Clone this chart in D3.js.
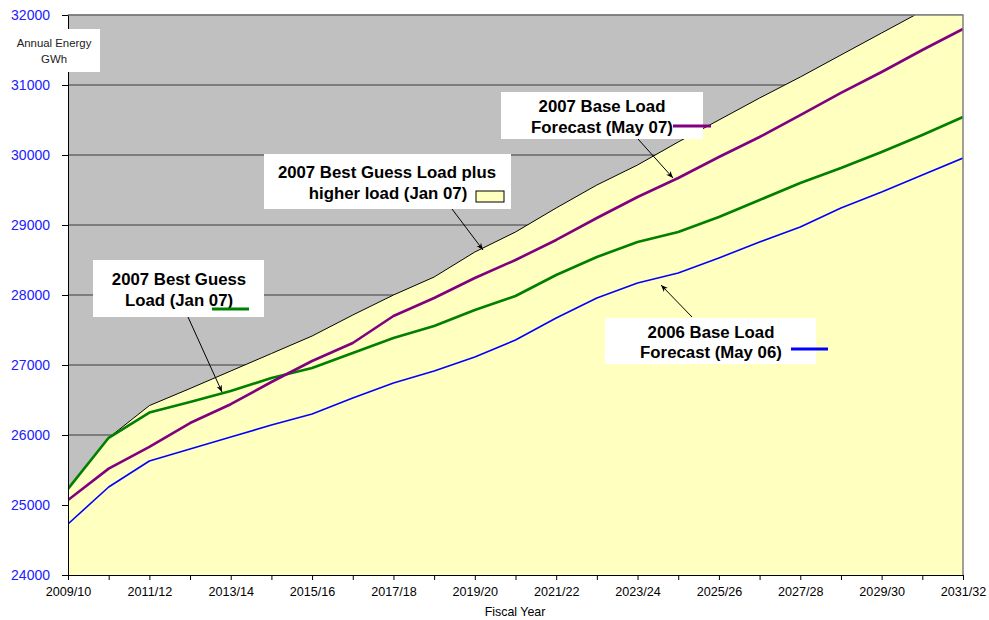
<!DOCTYPE html>
<html>
<head>
<meta charset="utf-8">
<script src="https://cdn.jsdelivr.net/npm/d3@7"></script>
<style>
  body { margin: 0; background: #fff; }
  svg { font-family: "Liberation Sans", Arial, sans-serif; }
</style>
</head>
<body>
<div id="plot"></div>
<script>
// fiscal years on the x axis
years = ["2009/10","2010/11","2011/12","2012/13","2013/14","2014/15","2015/16","2016/17",
  "2017/18","2018/19","2019/20","2020/21","2021/22","2022/23","2023/24","2024/25",
  "2025/26","2026/27","2027/28","2028/29","2029/30","2030/31","2031/32"]

// annual energy, GWh
higherLoad = [25230, 25960, 26420, 26664, 26914, 27164, 27414, 27714, 28000, 28257, 28614, 28900,
  29243, 29571, 29857, 30186, 30500, 30814, 31114, 31429, 31743, 32057, 32371]
baseMay07 = [25071, 25520, 25829, 26171, 26440, 26757, 27057, 27314, 27700, 27957, 28243, 28500,
  28786, 29100, 29400, 29671, 29971, 30257, 30571, 30886, 31186, 31500, 31800]
bestGuess = [25230, 25960, 26320, 26471, 26629, 26814, 26957, 27171, 27386, 27557, 27786, 27986,
  28286, 28543, 28757, 28900, 29114, 29357, 29600, 29814, 30043, 30286, 30543]
baseMay06 = [24729, 25257, 25629, 25800, 25971, 26143, 26300, 26529, 26743, 26914, 27114, 27357,
  27671, 27957, 28171, 28314, 28529, 28757, 28971, 29243, 29471, 29714, 29957]

yTicks = [24000, 25000, 26000, 27000, 28000, 29000, 30000, 31000, 32000]

W = 989, H = 620
margin = {top: 15, right: 26, bottom: 45, left: 68}

svg = d3.select("#plot").append("svg").attr("width", W).attr("height", H).attr("viewBox", [0, 0, W, H])

x = d3.scalePoint().domain(years).range([margin.left, W - margin.right])
y = d3.scaleLinear().domain([24000, 32000]).range([H - margin.bottom, margin.top])

svg.append("clipPath").attr("id", "clip")
  .append("rect")
    .attr("x", margin.left).attr("y", margin.top)
    .attr("width", W - margin.left - margin.right).attr("height", H - margin.top - margin.bottom)

// grey plot area
svg.append("rect")
  .attr("x", margin.left).attr("y", margin.top)
  .attr("width", W - margin.left - margin.right).attr("height", H - margin.top - margin.bottom)
  .attr("fill", "#c0c0c0")

// gridlines
svg.append("g")
  .selectAll("line")
  .data(yTicks)
  .join("line")
    .attr("x1", margin.left).attr("x2", W - margin.right)
    .attr("y1", d => y(d)).attr("y2", d => y(d))
    .attr("stroke", "#3a3a3a").attr("stroke-width", 1)

plot = svg.append("g").attr("clip-path", "url(#clip)")

area = d3.area().x((d, i) => x(years[i])).y0(y(24000)).y1(d => y(d))
plot.append("path").datum(higherLoad).attr("d", area).attr("fill", "#ffffc0")

line = d3.line().x((d, i) => x(years[i])).y(d => y(d))

series = [
  {values: higherLoad, color: "#000", width: 1},
  {values: baseMay06, color: "#0000ff", width: 1.6},
  {values: bestGuess, color: "#008000", width: 2.6},
  {values: baseMay07, color: "#800080", width: 2.6}
]

plot.selectAll("path.s")
  .data(series)
  .join("path")
    .attr("class", "s")
    .attr("d", d => line(d.values))
    .attr("fill", "none")
    .attr("stroke", d => d.color)
    .attr("stroke-width", d => d.width)
    .attr("stroke-linejoin", "round")

// right and top frame
svg.append("path")
  .attr("d", `M${margin.left},${margin.top}H${W - margin.right}V${H - margin.bottom}`)
  .attr("fill", "none").attr("stroke", "#808080").attr("stroke-width", 1.5)

// axes
yAxis = svg.append("g")
  .attr("transform", `translate(${margin.left},0)`)
  .call(d3.axisLeft(y).tickValues(yTicks).tickSize(6).tickSizeOuter(0).tickPadding(12).tickFormat(d3.format("d")))
yAxis.select(".domain").attr("stroke", "#000")
yAxis.selectAll(".tick line").attr("stroke", "#000")
yAxis.selectAll("text").attr("fill", "#2020ff").attr("font-size", 14).attr("font-family", "Liberation Sans, Arial, sans-serif")

xAxis = svg.append("g")
  .attr("transform", `translate(0,${H - margin.bottom})`)
  .call(d3.axisBottom(x).tickSize(5).tickSizeOuter(0).tickPadding(7)
    .tickFormat((d, i) => i % 2 === 0 ? d : ""))
xAxis.select(".domain").attr("stroke", "#000")
xAxis.selectAll(".tick line").attr("stroke", "#000")
xAxis.selectAll("text").attr("fill", "#000").attr("font-size", 12.6).attr("font-family", "Liberation Sans, Arial, sans-serif")

svg.append("text")
  .attr("x", 515).attr("y", 616)
  .attr("text-anchor", "middle").attr("font-size", 12.4)
  .text("Fiscal Year")

// y axis title box
svg.append("rect").attr("x", 8).attr("y", 29).attr("width", 92).attr("height", 43).attr("fill", "#fff")
svg.append("text").attr("x", 54).attr("y", 47).attr("text-anchor", "middle").attr("font-size", 11.4).attr("fill", "#222").text("Annual Energy")
svg.append("text").attr("x", 54).attr("y", 63).attr("text-anchor", "middle").attr("font-size", 11.4).attr("fill", "#222").text("GWh")

// arrow marker
svg.append("defs").append("marker")
  .attr("id", "arrow")
  .attr("viewBox", "0 0 10 10").attr("refX", 10).attr("refY", 5)
  .attr("markerWidth", 7).attr("markerHeight", 7).attr("orient", "auto")
  .append("path").attr("d", "M0,1L10,5L0,9L3,5Z").attr("fill", "#000")

// callouts
callouts = [
  {box: [93, 260, 171, 57], lines: [["2007 Best Guess", 179, 285], ["Load (Jan 07)", 179, 306]],
   key: {type: "line", color: "#008000", x1: 212, x2: 249, y: 309}, arrow: [188, 317, 222, 392]},
  {box: [264, 154, 247, 55], lines: [["2007 Best Guess Load plus", 387, 178], ["higher load (Jan 07)", 388, 199]],
   key: {type: "rect", x: 476, y: 191, w: 28, h: 11}, arrow: [452, 209, 483, 250]},
  {box: [501, 92, 202, 47], lines: [["2007 Base Load", 602, 112], ["Forecast (May 07)", 602, 133]],
   key: {type: "line", color: "#800080", x1: 673, x2: 711, y: 126}, arrow: [638, 139, 673, 178]},
  {box: [605, 318, 211, 46], lines: [["2006 Base Load", 711, 338], ["Forecast (May 06)", 711, 358]],
   key: {type: "line", color: "#0000ff", x1: 791, x2: 828, y: 349}, arrow: [692, 317, 661, 285]}
]

callouts.forEach(c => {
  g = svg.append("g")
  g.append("line")
    .attr("x1", c.arrow[0]).attr("y1", c.arrow[1]).attr("x2", c.arrow[2]).attr("y2", c.arrow[3])
    .attr("stroke", "#000").attr("stroke-width", 1).attr("marker-end", "url(#arrow)")
  g.append("rect")
    .attr("x", c.box[0]).attr("y", c.box[1]).attr("width", c.box[2]).attr("height", c.box[3])
    .attr("fill", "#fff")
  g.selectAll("text")
    .data(c.lines)
    .join("text")
      .attr("x", d => d[1]).attr("y", d => d[2])
      .attr("text-anchor", "middle")
      .attr("font-size", 16.8).attr("font-weight", "bold").attr("fill", "#000")
      .text(d => d[0])
  if (c.key.type === "line") {
    g.append("line")
      .attr("x1", c.key.x1).attr("x2", c.key.x2).attr("y1", c.key.y).attr("y2", c.key.y)
      .attr("stroke", c.key.color).attr("stroke-width", 3)
  } else {
    g.append("rect")
      .attr("x", c.key.x).attr("y", c.key.y).attr("width", c.key.w).attr("height", c.key.h)
      .attr("fill", "#ffffc0").attr("stroke", "#000").attr("stroke-width", 1)
  }
})
</script>
</body>
</html>
